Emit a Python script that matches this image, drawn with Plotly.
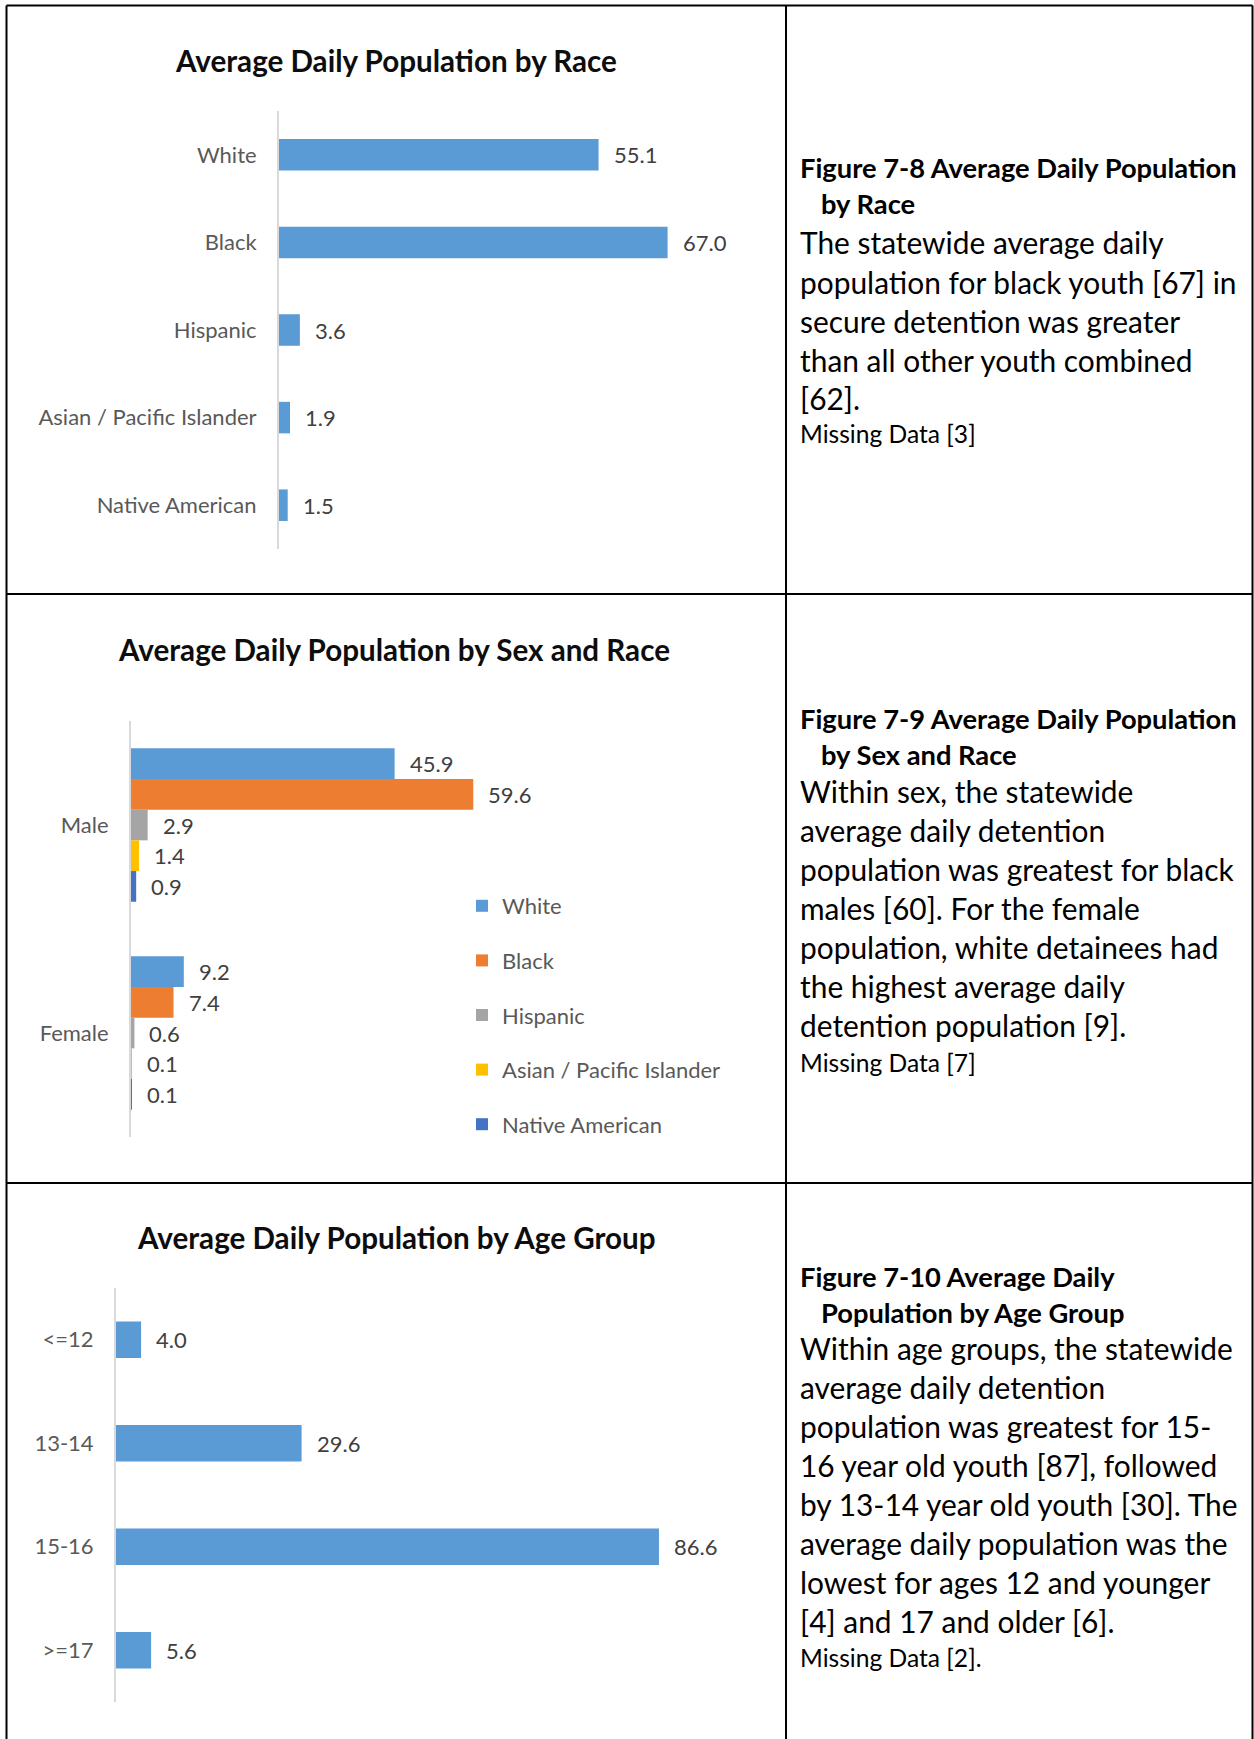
import plotly.graph_objects as go

W, H = 1254, 1739

# ---------------- data ----------------
race_cats = ["White", "Black", "Hispanic", "Asian / Pacific Islander", "Native American"]
race_vals = [55.1, 67.0, 3.6, 1.9, 1.5]

sex_cats = ["Male", "Female"]
sex_series = ["White", "Black", "Hispanic", "Asian / Pacific Islander", "Native American"]
sex_male = [45.9, 59.6, 2.9, 1.4, 0.9]
sex_female = [9.2, 7.4, 0.6, 0.1, 0.1]
series_colors = ["#5B9BD5", "#ED7D31", "#A5A5A5", "#FFC000", "#4472C4"]

age_cats = ["<=12", "13-14", "15-16", ">=17"]
age_vals = [4.0, 29.6, 86.6, 5.6]

chart_titles = [
    "Average Daily Population by Race",
    "Average Daily Population by Sex and Race",
    "Average Daily Population by Age Group",
]

headings = [
    ["Figure 7-8 Average Daily Population", "by Race"],
    ["Figure 7-9 Average Daily Population", "by Sex and Race"],
    ["Figure 7-10 Average Daily", "Population by Age Group"],
]
bodies = [
    ["The statewide average daily",
     "population for black youth [67] in",
     "secure detention was greater",
     "than all other youth combined",
     "[62]."],
    ["Within sex, the statewide",
     "average daily detention",
     "population was greatest for black",
     "males [60]. For the female",
     "population, white detainees had",
     "the highest average daily",
     "detention population [9]."],
    ["Within age groups, the statewide",
     "average daily detention",
     "population was greatest for 15-",
     "16 year old youth [87], followed",
     "by 13-14 year old youth [30]. The",
     "average daily population was the",
     "lowest for ages 12 and younger",
     "[4] and 17 and older [6]."],
]
missing = ["Missing Data [3]", "Missing Data [7]", "Missing Data [2]."]

# ---------------- helpers ----------------
def fx(px):
    return px / W

def fy(py):
    return 1 - py / H

FONT = "Lato, 'Open Sans', sans-serif"
TICK_COLOR = "#595959"
LABEL_COLOR = "#404040"
AXIS_LINE = "#D9D9D9"
TICK_SIZE = 22
LABEL_SIZE = 22

fig = go.Figure()

# Panel 1: race
fig.add_trace(go.Bar(
    x=race_vals, y=race_cats, orientation="h", width=0.36,
    marker=dict(color=series_colors[0], line=dict(width=0)),
    showlegend=False, xaxis="x", yaxis="y", hoverinfo="x+y",
))

# Panel 2: sex and race
n = len(sex_series)
group_frac = 0.738
bw = group_frac / n
for i, s in enumerate(sex_series):
    fig.add_trace(go.Bar(
        x=[sex_male[i], sex_female[i]], y=sex_cats, orientation="h",
        width=bw, offset=-group_frac / 2 + i * bw,
        name=s, legendgroup=s,
        marker=dict(color=series_colors[i], line=dict(width=0)),
        xaxis="x2", yaxis="y2", hoverinfo="x+y+name",
    ))

# Panel 3: age
fig.add_trace(go.Bar(
    x=age_vals, y=age_cats, orientation="h", width=0.353,
    marker=dict(color=series_colors[0], line=dict(width=0)),
    showlegend=False, xaxis="x3", yaxis="y3", hoverinfo="x+y",
))

annotations = []
# data labels
for c, v in zip(race_cats, race_vals):
    annotations.append(dict(x=v, y=c, xref="x", yref="y", text=f"{v:.1f}",
                            showarrow=False, xanchor="left", yanchor="middle", xshift=13,
                            font=dict(family=FONT, size=LABEL_SIZE, color=LABEL_COLOR)))
for i, s in enumerate(sex_series):
    for j, vals in enumerate([sex_male, sex_female]):
        v = vals[i]
        ypos = j - group_frac / 2 + i * bw + bw / 2
        annotations.append(dict(x=v, y=ypos, xref="x2", yref="y2", text=f"{v:.1f}",
                                showarrow=False, xanchor="left", yanchor="middle", xshift=13,
                                font=dict(family=FONT, size=LABEL_SIZE, color=LABEL_COLOR)))
for c, v in zip(age_cats, age_vals):
    annotations.append(dict(x=v, y=c, xref="x3", yref="y3", text=f"{v:.1f}",
                            showarrow=False, xanchor="left", yanchor="middle", xshift=13,
                            font=dict(family=FONT, size=LABEL_SIZE, color=LABEL_COLOR)))

# chart titles
title_pos = [(396, 60), (394, 650), (396, 1237)]
for t, (px, py) in zip(chart_titles, title_pos):
    annotations.append(dict(x=fx(px), y=fy(py), xref="paper", yref="paper",
                            text=f"<b>{t}</b>", showarrow=False, xanchor="center", yanchor="middle",
                            font=dict(family=FONT, size=29.6, color="#0D0D0D")))

# right-hand text
TX = 798
head_y = [(167, 204), (718.5, 754), (1276, 1312)]
body_y0 = [242.5, 791.3, 1347.5]
body_dy = 39
miss_y = [433.5, 1062, 1657.6]
for k in range(3):
    h1, h2 = headings[k]
    annotations.append(dict(x=fx(TX), y=fy(head_y[k][0]), xref="paper", yref="paper",
                            text=f"<b>{h1}</b>", showarrow=False, xanchor="left", yanchor="middle",
                            font=dict(family=FONT, size=27.3, color="#000000")))
    annotations.append(dict(x=fx(TX + 21), y=fy(head_y[k][1]), xref="paper", yref="paper",
                            text=f"<b>{h2}</b>", showarrow=False, xanchor="left", yanchor="middle",
                            font=dict(family=FONT, size=27.3, color="#000000")))
    for li, line in enumerate(bodies[k]):
        annotations.append(dict(x=fx(TX), y=fy(body_y0[k] + li * body_dy), xref="paper", yref="paper",
                                text=line, showarrow=False, xanchor="left", yanchor="middle",
                                font=dict(family=FONT, size=29.9, color="#000000")))
    annotations.append(dict(x=fx(TX), y=fy(miss_y[k]), xref="paper", yref="paper",
                            text=missing[k], showarrow=False, xanchor="left", yanchor="middle",
                            font=dict(family=FONT, size=24.6, color="#000000")))

# table borders
shapes = []
BL = dict(color="black", width=2)
for (x0, y0, x1, y1) in [
    (6.5, 5.5, 1252.5, 5.5),      # top
    (6.5, 594, 1252.5, 594),      # row divider 1
    (6.5, 1183, 1252.5, 1183),    # row divider 2
    (6.5, 5.5, 6.5, 1739),        # left
    (786, 5.5, 786, 1739),        # column divider
    (1252.5, 5.5, 1252.5, 1739),  # right
]:
    shapes.append(dict(type="line", xref="paper", yref="paper",
                       x0=fx(x0), y0=fy(y0), x1=fx(x1), y1=fy(y1), line=BL))

hidden_x = dict(showgrid=False, zeroline=False, showticklabels=False, showline=False, ticks="")
cat_y = dict(type="category", autorange="reversed", showgrid=False, zeroline=False,
             showline=True, linecolor=AXIS_LINE, linewidth=2, ticks="",
             tickfont=dict(family=FONT, size=TICK_SIZE, color=TICK_COLOR))

fig.update_layout(
    width=W, height=H,
    margin=dict(l=0, r=0, t=0, b=0),
    paper_bgcolor="white", plot_bgcolor="rgba(0,0,0,0)",
    barmode="group",
    font=dict(family=FONT),
    xaxis=dict(domain=[fx(279), fx(743)], range=[0, 80], anchor="y", **hidden_x),
    yaxis=dict(domain=[fy(549), fy(111)], anchor="x", ticklabelstandoff=16, **cat_y),
    xaxis2=dict(domain=[fx(131), fx(533)], range=[0, 70], anchor="y2", **hidden_x),
    yaxis2=dict(domain=[fy(1137), fy(721)], anchor="x2", ticklabelstandoff=16, **cat_y),
    xaxis3=dict(domain=[fx(116), fx(743)], range=[0, 100], anchor="y3", **hidden_x),
    yaxis3=dict(domain=[fy(1702), fy(1288)], anchor="x3", ticklabelstandoff=16, **cat_y),
    legend=dict(x=fx(462), y=fy(885), xanchor="left", yanchor="top",
                traceorder="grouped", tracegroupgap=23,
                font=dict(family=FONT, size=LABEL_SIZE, color=TICK_COLOR),
                bgcolor="rgba(0,0,0,0)", borderwidth=0),
    annotations=annotations,
    shapes=shapes,
    showlegend=True,
)

fig.write_html("out.html", config={"displayModeBar": False},
               post_script="document.body.style.margin='0';document.body.style.overflow='hidden';")
